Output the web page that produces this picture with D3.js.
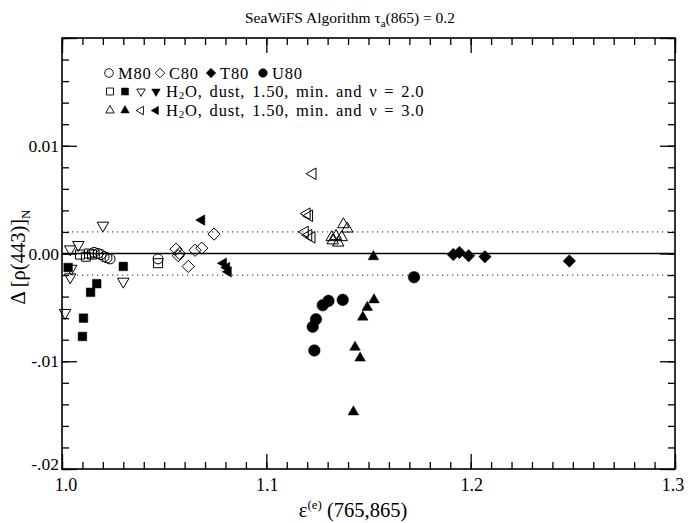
<!DOCTYPE html>
<html><head><meta charset="utf-8">
<script src="https://cdn.jsdelivr.net/npm/d3@7"></script>
<style>
body{margin:0;background:#fff}
svg{display:block}
text{font-family:"Liberation Serif","Times New Roman",Times,serif;fill:#000}
</style>
</head><body>
<svg id="c" width="691" height="523"></svg>
<script>
// ---------- data ----------
const xTickValues = [1.0, 1.1, 1.2, 1.3];
const xTickLabels = ["1.0", "1.1", "1.2", "1.3"];
const yTickValues = [0.01, 0.00, -0.01, -0.02];
const yTickLabels = ["0.01", "0.00", "-.01", "-.02"];
const dottedLevels = [0.002, -0.002];

// M80 (open circles)
const m80 = [[1.0157,0.0001],[1.0176,0.0000],[1.0191,-0.0001],[1.0206,-0.0003],[1.0220,-0.0004],[1.0235,-0.0005],[1.0470,-0.0005]];
// C80 (open diamonds)
const c80 = [[1.0558,0.0004],[1.0574,0.0000],[1.0569,-0.0002],[1.0651,0.0003],[1.0684,0.0005],[1.0618,-0.0012],[1.0744,0.0018]];
// T80 (filled diamonds)
const t80 = [[1.1915,-0.0001],[1.1945,0.0001],[1.1990,-0.0002],[1.2070,-0.0003],[1.2483,-0.0007]];
// U80 (filled circles)
const u80 = [[1.1304,-0.0044],[1.1276,-0.0048],[1.1374,-0.0043],[1.1243,-0.0061],[1.1227,-0.0068],[1.1235,-0.0090],[1.1723,-0.0022]];
// H2O, dust, nu = 2.0
const nu2OpenSquare = [[1.0088,-0.0001],[1.0117,-0.0003],[1.0132,0.0000],[1.0147,-0.0001],[1.0470,-0.0009]];
const nu2FilledSquare = [[1.0030,-0.0013],[1.0300,-0.0012],[1.0170,-0.0028],[1.0140,-0.0036],[1.0105,-0.0060],[1.0100,-0.0077]];
const nu2OpenDown = [[1.0015,-0.0055],[1.0040,0.0004],[1.0080,0.0008],[1.0045,-0.0014],[1.0040,-0.0022],[1.0200,0.0026],[1.0300,-0.0026]];
const nu2FilledDown = [];
// H2O, dust, nu = 3.0
const nu3OpenUp = [[1.1377,0.0027],[1.1396,0.0023],[1.1320,0.0015],[1.1341,0.0016],[1.1369,0.0015],[1.1325,0.0012],[1.1352,0.0010]];
const nu3FilledUp = [[1.1524,-0.0003],[1.1527,-0.0043],[1.1494,-0.0050],[1.1472,-0.0059],[1.1434,-0.0087],[1.1459,-0.0097],[1.1426,-0.0147]];
const nu3OpenLeft = [[1.1227,0.0074],[1.1198,0.0037],[1.1210,0.0035],[1.1189,0.0020],[1.1206,0.0017],[1.1222,0.0015]];
const nu3FilledLeft = [[1.0684,0.0031],[1.0790,-0.0009],[1.0806,-0.0013],[1.0814,-0.0017]];

// ---------- layout ----------
const svg = d3.select("#c");
const L = 62, R = 675, T = 38, B = 469;
const x = d3.scaleLinear().domain([1.0, 1.3]).range([L, R]);
const y = d3.scaleLinear().domain([-0.02, 0.02]).range([B, T]);

function shapePath(kind, s) {
  const p = d3.path();
  if (kind === "circle") { p.arc(0, 0, s, 0, 2 * Math.PI); p.closePath(); return p.toString(); }
  if (kind === "square") { return `M${-s},${-s}h${2*s}v${2*s}h${-2*s}Z`; }
  if (kind === "diamond") { const d = s * 1.3; return `M0,${-d}L${d},0L0,${d}L${-d},0Z`; }
  const a = s * 2.3, h = a * 0.866;
  if (kind === "down") return `M0,${2*h/3}L${a/2},${-h/3}L${-a/2},${-h/3}Z`;
  if (kind === "left") return `M${-2*h/3},0L${h/3},${-a/2}L${h/3},${a/2}Z`;
  return `M0,${-2*h/3}L${a/2},${h/3}L${-a/2},${h/3}Z`;
}

// reference lines
const gRef = svg.append("g");
gRef.selectAll("line.dot").data(dottedLevels).join("line")
  .attr("x1", L).attr("x2", R).attr("y1", d => y(d)).attr("y2", d => y(d))
  .attr("stroke", "#555").attr("stroke-width", 1.3).attr("stroke-dasharray", "1.3,3.7");
gRef.append("line").attr("x1", L).attr("x2", R).attr("y1", y(0)).attr("y2", y(0))
  .attr("stroke", "#000").attr("stroke-width", 1.6);

// ticks
const xMinor = d3.range(0, 31).map(i => 1.0 + i * 0.01);
const yMinor = d3.range(0, 21).map(i => -0.02 + i * 0.002);
const yMajor = [0.02, ...yTickValues];
function styleAxis(g) { g.select(".domain").remove(); g.selectAll(".tick line").attr("stroke", "#000").attr("stroke-width", 1.3); }
svg.append("g").attr("transform", `translate(0,${B})`).call(d3.axisBottom(x).tickValues(xMinor).tickSize(-7).tickFormat("")).call(styleAxis);
svg.append("g").attr("transform", `translate(0,${B})`).call(d3.axisBottom(x).tickValues(xTickValues).tickSize(-15).tickFormat("")).call(styleAxis);
svg.append("g").attr("transform", `translate(0,${T})`).call(d3.axisTop(x).tickValues(xMinor).tickSize(-7).tickFormat("")).call(styleAxis);
svg.append("g").attr("transform", `translate(0,${T})`).call(d3.axisTop(x).tickValues(xTickValues).tickSize(-15).tickFormat("")).call(styleAxis);
svg.append("g").attr("transform", `translate(${L},0)`).call(d3.axisLeft(y).tickValues(yMinor).tickSize(-7).tickFormat("")).call(styleAxis);
svg.append("g").attr("transform", `translate(${L},0)`).call(d3.axisLeft(y).tickValues(yMajor).tickSize(-15).tickFormat("")).call(styleAxis);
svg.append("g").attr("transform", `translate(${R},0)`).call(d3.axisRight(y).tickValues(yMinor).tickSize(-7).tickFormat("")).call(styleAxis);
svg.append("g").attr("transform", `translate(${R},0)`).call(d3.axisRight(y).tickValues(yMajor).tickSize(-15).tickFormat("")).call(styleAxis);

// frame
svg.append("rect").attr("x", L).attr("y", T).attr("width", R - L).attr("height", B - T)
  .attr("fill", "none").attr("stroke", "#000").attr("stroke-width", 1.6);

// tick labels
svg.append("g").selectAll("text").data(xTickValues).join("text")
  .attr("x", (d, i) => x(d) + (i === 0 ? 4 : (i === xTickValues.length - 1 ? -2 : 1)))
  .attr("y", B + 22)
  .attr("text-anchor", "middle").attr("font-size", 18).text((d, i) => xTickLabels[i]);
svg.append("g").selectAll("text").data(yTickValues).join("text")
  .attr("x", L - 3)
  .attr("y", (d, i) => y(d) + (i === yTickValues.length - 1 ? 1 : 6))
  .attr("text-anchor", "end").attr("font-size", 17.5).text((d, i) => yTickLabels[i]);

// titles
const title = svg.append("text").attr("x", 350).attr("y", 23).attr("text-anchor", "middle").attr("font-size", 15.5);
title.append("tspan").text("SeaWiFS Algorithm \u03c4");
title.append("tspan").attr("font-size", 11).attr("dy", 4).text("a");
title.append("tspan").attr("dy", -4).text("(865) = 0.2");

const xt = svg.append("text").attr("x", 353).attr("y", 517).attr("text-anchor", "middle").attr("font-size", 20.5);
xt.append("tspan").text("\u03b5");
xt.append("tspan").attr("font-size", 13).attr("dy", -8).text("(e)");
xt.append("tspan").attr("dy", 8).text(" (765,865)");

const yt = svg.append("text").attr("transform", `translate(25,257) rotate(-90)`).attr("text-anchor", "middle").attr("font-size", 20.5);
yt.append("tspan").text("\u0394 [\u03c1(443)]");
yt.append("tspan").attr("font-size", 13).attr("dy", 5).text("N");

// markers
const series = [
  {data: m80, kind: "circle", fill: false, s: 5},
  {data: nu2OpenSquare, kind: "square", fill: false, s: 4.5},
  {data: nu2OpenDown, kind: "down", fill: false, s: 5},
  {data: c80, kind: "diamond", fill: false, s: 4.7},
  {data: nu3OpenUp, kind: "up", fill: false, s: 5},
  {data: nu3OpenLeft, kind: "left", fill: false, s: 5},
  {data: nu2FilledSquare, kind: "square", fill: true, s: 4.3},
  {data: nu2FilledDown, kind: "down", fill: true, s: 5},
  {data: nu3FilledUp, kind: "up", fill: true, s: 4.6},
  {data: nu3FilledLeft, kind: "left", fill: true, s: 4.6},
  {data: t80, kind: "diamond", fill: true, s: 4.8},
  {data: u80, kind: "circle", fill: true, s: 5.8}
];
const gm = svg.append("g");
series.forEach(sr => {
  gm.append("g").selectAll("path").data(sr.data).join("path")
    .attr("transform", d => `translate(${x(d[0])},${y(d[1])})`)
    .attr("d", shapePath(sr.kind, sr.s))
    .attr("fill", sr.fill ? "#000" : "none")
    .attr("stroke", "#000").attr("stroke-width", sr.fill ? 0.5 : 1);
});

// legend
const lg = svg.append("g");
const legendRows = [
  {y: 73, items: [["circle",false,109,"M80",118],["diamond",false,160,"C80",169],["diamond",true,211,"T80",220],["circle",true,263,"U80",272]]},
  {y: 91.5, items: [["square",false,110],["square",true,125],["down",false,141],["down",true,156]], text: ["H", "2", "O, dust, 1.50, min. and \u03bd = 2.0"], tx: 166},
  {y: 110.5, items: [["up",false,110],["up",true,125],["left",false,141],["left",true,156]], text: ["H", "2", "O, dust, 1.50, min. and \u03bd = 3.0"], tx: 166}
];
legendRows.forEach(row => {
  row.items.forEach(it => {
    const sz = it[0] === "circle" ? 4.3 : (it[0] === "square" ? 3.5 : 3.7);
    lg.append("path").attr("transform", `translate(${it[2]},${row.y})`)
      .attr("d", shapePath(it[0], sz))
      .attr("fill", it[1] ? "#000" : "none").attr("stroke", "#000").attr("stroke-width", it[1] ? 0.5 : 0.9);
    if (it[3]) lg.append("text").attr("x", it[4]).attr("y", row.y + 5.5).attr("font-size", 16.5)
      .attr("letter-spacing", 0.8).text(it[3]);
  });
  if (row.text) {
    const t = lg.append("text").attr("x", row.tx).attr("y", row.y + 5.5).attr("font-size", 16.5)
      .attr("letter-spacing", 0.8).attr("word-spacing", 2);
    t.append("tspan").text(row.text[0]);
    t.append("tspan").attr("font-size", 11).attr("dy", 2).text(row.text[1]);
    t.append("tspan").attr("dy", -2).text(row.text[2]);
  }
});
</script>
</body></html>
